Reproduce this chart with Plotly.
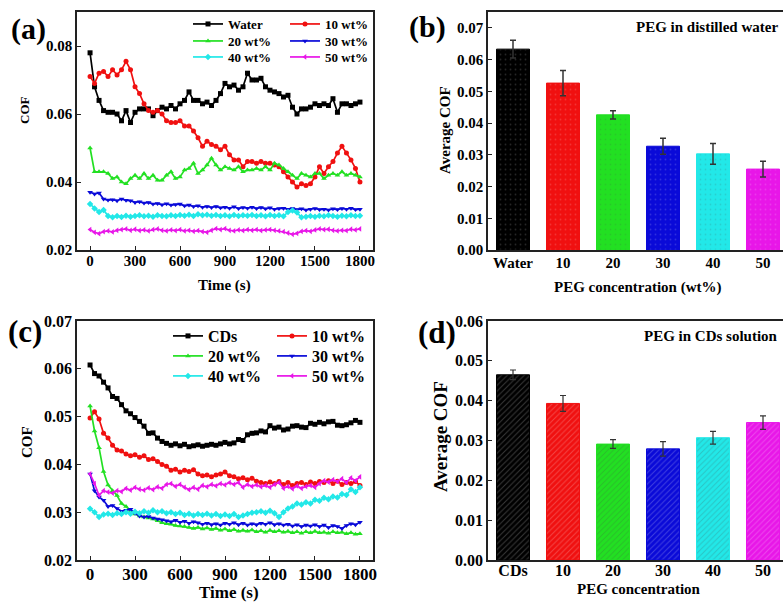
import plotly.graph_objects as go

# ---------------- data ----------------
time_s = list(range(0, 1801, 30))

# Panel (a): PEG in distilled water, COF vs time
a_water = [0.078, 0.068, 0.064, 0.061, 0.0605, 0.0605, 0.060, 0.058, 0.061, 0.0575, 0.0605, 0.0615, 0.0615, 0.0615, 0.0595, 0.061,
           0.062, 0.0615, 0.0625, 0.0615, 0.063, 0.064, 0.0665, 0.064, 0.064, 0.063, 0.0635, 0.0625, 0.064, 0.066, 0.069, 0.068,
           0.0685, 0.067, 0.068, 0.072, 0.070, 0.070, 0.0705, 0.068, 0.067, 0.0665, 0.066, 0.065, 0.0655, 0.062, 0.060, 0.0615,
           0.0615, 0.062, 0.063, 0.0625, 0.063, 0.0625, 0.0645, 0.0605, 0.063, 0.063, 0.0625, 0.063, 0.0635]
a_10 = [0.071, 0.069, 0.072, 0.0725, 0.071, 0.073, 0.0715, 0.073, 0.0755, 0.073, 0.068, 0.066, 0.063, 0.061, 0.0605, 0.061,
        0.060, 0.058, 0.0575, 0.0575, 0.058, 0.0565, 0.0565, 0.055, 0.053, 0.0505, 0.052, 0.051, 0.0505, 0.0495, 0.0505, 0.048,
        0.0465, 0.0465, 0.0445, 0.046, 0.046, 0.0455, 0.046, 0.0455, 0.0455, 0.045, 0.0445, 0.043, 0.0415, 0.040, 0.0385, 0.0395,
        0.039, 0.0395, 0.0415, 0.0445, 0.0425, 0.0445, 0.046, 0.0485, 0.0505, 0.0485, 0.0465, 0.044, 0.040]
a_20 = [0.050, 0.043, 0.043, 0.043, 0.0425, 0.041, 0.0415, 0.040, 0.0395, 0.041, 0.042, 0.041, 0.0425, 0.041, 0.042, 0.0405,
        0.0405, 0.042, 0.043, 0.041, 0.0415, 0.0435, 0.044, 0.0455, 0.0425, 0.0435, 0.045, 0.047, 0.045, 0.0435, 0.0445, 0.044,
        0.0435, 0.0445, 0.043, 0.0435, 0.0435, 0.044, 0.0435, 0.0445, 0.0435, 0.0455, 0.045, 0.044, 0.043, 0.042, 0.041, 0.0425,
        0.042, 0.0415, 0.0425, 0.0425, 0.041, 0.042, 0.0425, 0.042, 0.043, 0.042, 0.0425, 0.042, 0.0415]
a_30 = [0.037, 0.0365, 0.0368, 0.035, 0.0347, 0.0348, 0.0345, 0.035, 0.0346, 0.0345, 0.034, 0.0342, 0.0338, 0.034, 0.0335, 0.0337,
        0.0333, 0.0336, 0.0332, 0.0334, 0.0335, 0.033, 0.0332, 0.0328, 0.033, 0.0326, 0.0328, 0.0325, 0.0328, 0.0324, 0.0326, 0.0323,
        0.0327, 0.0322, 0.0325, 0.0323, 0.0326, 0.0322, 0.0325, 0.0321, 0.0324, 0.032, 0.0322, 0.0323, 0.032, 0.0322, 0.0319, 0.0321,
        0.0318, 0.032, 0.0322, 0.0319, 0.032, 0.0318, 0.0321, 0.0319, 0.0322, 0.032, 0.0323, 0.0319, 0.032]
a_40 = [0.0335, 0.0322, 0.0312, 0.0318, 0.0300, 0.0296, 0.0300, 0.0297, 0.0301, 0.0298, 0.0300, 0.0302, 0.0299, 0.0301, 0.0298, 0.0302,
        0.0300, 0.0299, 0.0302, 0.0300, 0.0303, 0.0301, 0.0304, 0.0300, 0.0305, 0.0302, 0.0304, 0.0301, 0.0303, 0.0300, 0.0302, 0.0299,
        0.0303, 0.0300, 0.0302, 0.0301, 0.0303, 0.0300, 0.0302, 0.0299, 0.0303, 0.0300, 0.0302, 0.0299, 0.0312, 0.0316, 0.0310, 0.0296,
        0.0298, 0.0300, 0.0298, 0.0301, 0.0299, 0.0302, 0.0300, 0.0298, 0.0301, 0.0299, 0.0302, 0.0300, 0.0301]
a_50 = [0.0260, 0.0252, 0.0248, 0.0254, 0.0256, 0.0253, 0.0258, 0.0260, 0.0262, 0.0258, 0.0261, 0.0257, 0.0259, 0.0256, 0.0260, 0.0262,
        0.0258, 0.0256, 0.0259, 0.0257, 0.0260, 0.0256, 0.0258, 0.0255, 0.0257, 0.0254, 0.0252, 0.0258, 0.0263, 0.0260, 0.0263, 0.0258,
        0.0256, 0.0259, 0.0257, 0.0260, 0.0258, 0.0260, 0.0257, 0.0259, 0.0260, 0.0258, 0.0256, 0.0254, 0.0250, 0.0246, 0.0249, 0.0255,
        0.0257, 0.0255, 0.0259, 0.0262, 0.0260, 0.0261, 0.0258, 0.0256, 0.0258, 0.0257, 0.0261, 0.0259, 0.0262]

# Panel (c): PEG in CDs solution, COF vs time
c_cds = [0.0608, 0.0590, 0.0585, 0.0572, 0.0560, 0.0542, 0.0538, 0.0525, 0.0512, 0.0506, 0.0498, 0.0490, 0.0480, 0.0465, 0.0466, 0.0455,
         0.0448, 0.0444, 0.0440, 0.0443, 0.0439, 0.0442, 0.0437, 0.0439, 0.0441, 0.0438, 0.0440, 0.0442, 0.0440, 0.0443, 0.0446, 0.0443,
         0.0445, 0.0452, 0.0450, 0.0462, 0.0465, 0.0466, 0.0470, 0.0468, 0.0481, 0.0476, 0.0478, 0.0472, 0.0474, 0.0480, 0.0481, 0.0478,
         0.0477, 0.0486, 0.0484, 0.0488, 0.0485, 0.0489, 0.0490, 0.0482, 0.0481, 0.0483, 0.0487, 0.0492, 0.0488]
c_10 = [0.0497, 0.0510, 0.0495, 0.0465, 0.0455, 0.0440, 0.0430, 0.0428, 0.0422, 0.0418, 0.0420, 0.0415, 0.0418, 0.0410, 0.0412, 0.0406,
        0.0400, 0.0396, 0.0388, 0.0390, 0.0384, 0.0388, 0.0385, 0.0389, 0.0380, 0.0376, 0.0378, 0.0374, 0.0378, 0.0380, 0.0384, 0.0376,
        0.0374, 0.0370, 0.0372, 0.0368, 0.0371, 0.0365, 0.0362, 0.0360, 0.0363, 0.0360, 0.0364, 0.0358, 0.0362, 0.0356, 0.0360, 0.0362,
        0.0358, 0.0363, 0.0360, 0.0364, 0.0362, 0.0366, 0.0360, 0.0365, 0.0358, 0.0362, 0.0360, 0.0364, 0.0356]
c_20 = [0.0522, 0.0470, 0.0435, 0.0385, 0.0357, 0.0345, 0.0335, 0.0318, 0.0312, 0.0302, 0.0296, 0.0292, 0.0290, 0.0288, 0.0286, 0.0282,
        0.0278, 0.0276, 0.0275, 0.0272, 0.0271, 0.0270, 0.0268, 0.0266, 0.0268, 0.0265, 0.0267, 0.0264, 0.0266, 0.0262, 0.0265, 0.0261,
        0.0264, 0.0260, 0.0262, 0.0260, 0.0263, 0.0259, 0.0261, 0.0258, 0.0262, 0.0259, 0.0261, 0.0258, 0.0260, 0.0257, 0.0259, 0.0256,
        0.0259, 0.0257, 0.0260, 0.0257, 0.0258, 0.0256, 0.0259, 0.0257, 0.0258, 0.0255, 0.0257, 0.0254, 0.0255]
c_30 = [0.0380, 0.0345, 0.0332, 0.0325, 0.0312, 0.0314, 0.0308, 0.0302, 0.0304, 0.0306, 0.0298, 0.0292, 0.0290, 0.0291, 0.0288, 0.0286,
        0.0284, 0.0282, 0.0280, 0.0283, 0.0279, 0.0281, 0.0277, 0.0280, 0.0278, 0.0275, 0.0277, 0.0274, 0.0276, 0.0273, 0.0277, 0.0275,
        0.0278, 0.0274, 0.0277, 0.0273, 0.0276, 0.0274, 0.0277, 0.0275, 0.0278, 0.0274, 0.0276, 0.0273, 0.0275, 0.0271, 0.0274, 0.0270,
        0.0273, 0.0271, 0.0274, 0.0270, 0.0273, 0.0268, 0.0272, 0.0270, 0.0266, 0.0272, 0.0276, 0.0274, 0.0279]
c_40 = [0.0307, 0.0300, 0.0290, 0.0295, 0.0297, 0.0294, 0.0298, 0.0296, 0.0300, 0.0297, 0.0301, 0.0298, 0.0302, 0.0299, 0.0304, 0.0300,
        0.0302, 0.0298, 0.0300, 0.0296, 0.0299, 0.0294, 0.0297, 0.0293, 0.0296, 0.0294, 0.0297, 0.0293, 0.0296, 0.0292, 0.0295, 0.0292,
        0.0296, 0.0290, 0.0293, 0.0296, 0.0299, 0.0300, 0.0302, 0.0299, 0.0303, 0.0298, 0.0290, 0.0300, 0.0308, 0.0312, 0.0318, 0.0316,
        0.0321, 0.0318, 0.0326, 0.0324, 0.0330, 0.0327, 0.0333, 0.0331, 0.0338, 0.0336, 0.0348, 0.0342, 0.0352]
c_50 = [0.0380, 0.0360, 0.0335, 0.0345, 0.0342, 0.0340, 0.0345, 0.0343, 0.0350, 0.0346, 0.0352, 0.0348, 0.0346, 0.0351, 0.0347, 0.0353,
        0.0350, 0.0358, 0.0360, 0.0354, 0.0358, 0.0352, 0.0347, 0.0352, 0.0348, 0.0356, 0.0353, 0.0358, 0.0355, 0.0360, 0.0357, 0.0362,
        0.0358, 0.0362, 0.0352, 0.0358, 0.0354, 0.0357, 0.0353, 0.0356, 0.0352, 0.0358, 0.0362, 0.0350, 0.0354, 0.0349, 0.0355, 0.0350,
        0.0354, 0.0356, 0.0352, 0.0360, 0.0366, 0.0363, 0.0368, 0.0364, 0.0370, 0.0362, 0.0372, 0.0366, 0.0374]

# Panel (b): average COF, PEG in distilled water
b_categories = ["Water", "10", "20", "30", "40", "50"]
b_mean = [0.0633, 0.0526, 0.0426, 0.0327, 0.0303, 0.0255]
b_err = [0.0028, 0.0040, 0.0013, 0.0025, 0.0033, 0.0025]

# Panel (d): average COF, PEG in CDs solution
d_categories = ["CDs", "10", "20", "30", "40", "50"]
d_mean = [0.0465, 0.0393, 0.0291, 0.0279, 0.0307, 0.0345]
d_err = [0.0012, 0.0020, 0.0011, 0.0018, 0.0016, 0.0017]

a_names = ["Water", "10 wt%", "20 wt%", "30 wt%", "40 wt%", "50 wt%"]
c_names = ["CDs", "10 wt%", "20 wt%", "30 wt%", "40 wt%", "50 wt%"]

# ---------------- styling ----------------
W, H = 783, 604
colors = ["#000000", "#f01010", "#22e022", "#0a0ad8", "#22e8e8", "#e816e8"]
symbols = ["square", "circle", "triangle-up", "triangle-down", "diamond", "triangle-left"]
FONT = "Liberation Serif, Times New Roman, serif"
AX = "#222222"


def px_x(p):
    return p / W


def px_y(p):
    return 1 - p / H


fig = go.Figure()

a_series = [a_water, a_10, a_20, a_30, a_40, a_50]
c_series = [c_cds, c_10, c_20, c_30, c_40, c_50]
a_legends = ["legend", "legend", "legend2", "legend2", "legend3", "legend3"]
c_legends = ["legend4", "legend4", "legend5", "legend5", "legend6", "legend6"]

for i, ys in enumerate(a_series):
    fig.add_trace(go.Scatter(
        x=time_s, y=ys, mode="lines+markers", name=a_names[i],
        line=dict(color=colors[i], width=1.7),
        marker=dict(symbol=symbols[i], size=5, color=colors[i]),
        xaxis="x", yaxis="y", legend=a_legends[i]))

for i, ys in enumerate(c_series):
    fig.add_trace(go.Scatter(
        x=time_s, y=ys, mode="lines+markers", name=c_names[i],
        line=dict(color=colors[i], width=1.7),
        marker=dict(symbol=symbols[i], size=5, color=colors[i]),
        xaxis="x3", yaxis="y3", legend=c_legends[i]))

fig.add_trace(go.Bar(
    x=b_categories, y=b_mean, width=0.66, showlegend=False,
    marker=dict(color=colors, line=dict(color=colors, width=1),
                pattern=dict(shape=".", fgcolor="#000000", fgopacity=0.15, size=5, solidity=0.1, fillmode="overlay")),
    error_y=dict(type="data", array=b_err, color="#333333", thickness=1.5, width=3),
    xaxis="x2", yaxis="y2"))

fig.add_trace(go.Bar(
    x=d_categories, y=d_mean, width=0.66, showlegend=False,
    marker=dict(color=colors, line=dict(color=colors, width=1),
                pattern=dict(shape="/", fgcolor="#000000", fgopacity=0.22, size=4, solidity=0.25, fillmode="overlay")),
    error_y=dict(type="data", array=d_err, color="#333333", thickness=1.2, width=3),
    xaxis="x4", yaxis="y4"))

dom_x_left = [px_x(77), px_x(373)]
dom_x_right = [px_x(488), 1.0]
dom_y_top = [px_y(250), px_y(12)]
dom_y_bot = [px_y(560), px_y(321)]

line_ax = dict(showline=True, linecolor=AX, linewidth=1.6, showgrid=False, zeroline=False, automargin=False)
in_ticks = dict(ticks="inside", ticklen=4, tickwidth=1.4, tickcolor=AX)
time_ax = dict(line_ax, range=[-87, 1887], tickvals=[0, 300, 600, 900, 1200, 1500, 1800], mirror=True, **in_ticks)

fig.update_layout(
    width=W, height=H, margin=dict(l=0, r=0, t=0, b=0, autoexpand=False),
    paper_bgcolor="white", plot_bgcolor="white",
    font=dict(family=FONT, size=15, color="black", weight="bold"),
    xaxis=dict(time_ax, domain=dom_x_left, anchor="y", tickfont=dict(size=15), ticklabelstandoff=-4),
    yaxis=dict(line_ax, domain=dom_y_top, anchor="x", range=[0.02, 0.09], tickvals=[0.02, 0.04, 0.06, 0.08],
               tickformat=".2f", mirror=True, tickfont=dict(size=15), **in_ticks),
    xaxis2=dict(line_ax, domain=dom_x_right, anchor="y2", range=[-0.5, 5.4], mirror=True, ticks="",
                tickfont=dict(size=15), ticklabelstandoff=-2),
    yaxis2=dict(line_ax, domain=dom_y_top, anchor="x2", range=[0, 0.075], dtick=0.01, tickformat=".2f",
                tickfont=dict(size=15), **in_ticks),
    xaxis3=dict(time_ax, domain=dom_x_left, anchor="y3", tickfont=dict(size=17), ticklabelstandoff=-2),
    yaxis3=dict(line_ax, domain=dom_y_bot, anchor="x3", range=[0.02, 0.07], dtick=0.01, tickformat=".2f",
                mirror=True, tickfont=dict(size=16), **in_ticks),
    xaxis4=dict(line_ax, domain=dom_x_right, anchor="y4", range=[-0.5, 5.4], mirror=True, ticks="",
                tickfont=dict(size=16), ticklabelstandoff=-5),
    yaxis4=dict(line_ax, domain=dom_y_bot, anchor="x4", range=[0, 0.06], dtick=0.01, tickformat=".2f",
                tickfont=dict(size=16), **in_ticks),
)

# legends: one horizontal row per legend
leg_a_font = dict(family=FONT, size=13, color="black", weight="bold")
leg_c_font = dict(family=FONT, size=16, color="black", weight="bold")
leg_common = dict(orientation="h", xanchor="left", yanchor="middle", bgcolor="rgba(0,0,0,0)",
                  borderwidth=0, entrywidthmode="pixels")
fig.update_layout(
    legend=dict(leg_common, x=px_x(188), y=px_y(24), entrywidth=52, font=leg_a_font),
    legend2=dict(leg_common, x=px_x(188), y=px_y(41), entrywidth=52, font=leg_a_font),
    legend3=dict(leg_common, x=px_x(188), y=px_y(57), entrywidth=52, font=leg_a_font),
    legend4=dict(leg_common, x=px_x(168), y=px_y(336), entrywidth=59, font=leg_c_font),
    legend5=dict(leg_common, x=px_x(168), y=px_y(356), entrywidth=59, font=leg_c_font),
    legend6=dict(leg_common, x=px_x(168), y=px_y(376), entrywidth=59, font=leg_c_font),
)


def ann(text, x, y, size, angle=0, xanchor="center"):
    fig.add_annotation(text=text, x=px_x(x), y=px_y(y), xref="paper", yref="paper",
                       showarrow=False, xanchor=xanchor, yanchor="middle", textangle=angle,
                       font=dict(family=FONT, size=size, color="black", weight="bold"))


# panel labels
ann("(a)", 28, 29, 30)
ann("(b)", 427, 27, 30)
ann("(c)", 25, 331, 31)
ann("(d)", 437, 332, 31)
# axis titles
ann("COF", 25, 110, 13, angle=-90)
ann("Time (s)", 224, 285, 15)
ann("Average COF", 445, 130, 15, angle=-90)
ann("PEG concentration (wt%)", 637, 287, 15)
ann("COF", 27, 442, 15, angle=-90)
ann("Time (s)", 229, 592, 17)
ann("Average COF", 440, 437, 19, angle=-90)
ann("PEG concentration", 639, 589, 15)
# inner titles
ann("PEG in distilled water", 780, 27, 15, xanchor="right")
ann("PEG in CDs solution", 780, 336, 15, xanchor="right")

fig.write_html("out.html")
